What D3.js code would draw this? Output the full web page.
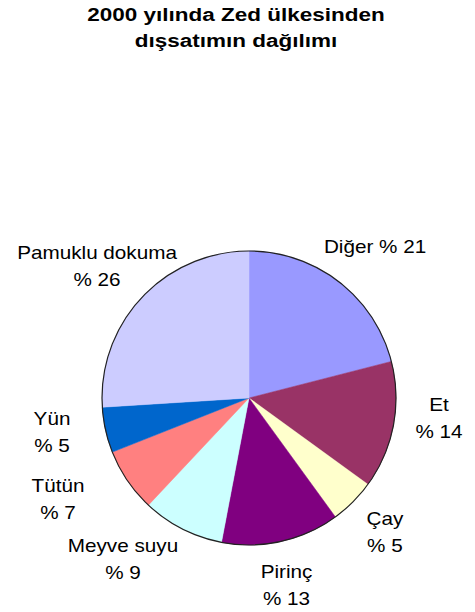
<!DOCTYPE html>
<html><head><meta charset="utf-8">
<script src="https://cdn.jsdelivr.net/npm/d3@7"></script>
<style>html,body{margin:0;padding:0;background:#fff;}</style>
</head><body>
<script>
const titleLines = ["2000 yılında Zed ülkesinden", "dışsatımın dağılımı"];
const categories = ["Diğer", "Et", "Çay", "Pirinç", "Meyve suyu", "Tütün", "Yün", "Pamuklu dokuma"];
const values = [21, 14, 5, 13, 9, 7, 5, 26];
const colors = ["#9999FF", "#993366", "#FFFFCC", "#800080", "#CCFFFF", "#FF8080", "#0066CC", "#CCCCFF"];
const singleLine = [true, false, false, false, false, false, false, false];

// layout (not data)
const W = 475, H = 612;
const cx = 249, cy = 398, R = 147, labelR = 195;
const nudges = [[6.5, 2.6], [-1.5, -16.5], [-2, -4], [-5, -3], [-37.5, -12.7], [-29.7, -8.6], [-6.7, -8.5], [-9.8, 1.5]];
const font = "'Liberation Sans', Arial, sans-serif";

const svg = d3.select("body").append("svg").attr("width", W).attr("height", H);

svg.selectAll("text.title").data(titleLines).join("text")
  .attr("class", "title")
  .attr("transform", (d, i) => `translate(236,${20.5 + i * 26}) scale(1.25,1)`)
  .attr("text-anchor", "middle")
  .attr("font-family", font).attr("font-weight", "bold").attr("font-size", 18)
  .attr("fill", "#000")
  .text(d => d);

const data = categories.map((c, i) => ({ name: c, value: values[i], color: colors[i], single: singleLine[i], nudge: nudges[i] }));
const pie = d3.pie().sort(null).value(d => d.value).startAngle(0).endAngle(2 * Math.PI);
const arcs = pie(data);
const arc = d3.arc().innerRadius(0).outerRadius(R);

const g = svg.append("g").attr("transform", `translate(${cx},${cy})`);
g.selectAll("path.slice").data(arcs).join("path")
  .attr("class", "slice")
  .attr("d", arc)
  .attr("fill", d => d.data.color)
  .attr("stroke", d => d.data.color).attr("stroke-width", 0.5);
g.append("circle").attr("r", R).attr("fill", "none").attr("stroke", "#222").attr("stroke-width", 1.2);

const labels = g.selectAll("g.lab").data(arcs).join("g").attr("class", "lab")
  .attr("transform", d => {
    const a = (d.startAngle + d.endAngle) / 2;
    const x = labelR * Math.sin(a) + d.data.nudge[0];
    const y = -labelR * Math.cos(a) + d.data.nudge[1];
    return `translate(${x},${y})`;
  });

labels.each(function(d) {
  const sel = d3.select(this);
  const lines = d.data.single ? [`${d.data.name} % ${d.data.value}`] : [d.data.name, `% ${d.data.value}`];
  const base = d.data.single ? 6.5 : -7;
  lines.forEach((t, i) => {
    sel.append("text")
      .attr("transform", `translate(0,${base + i * 27}) scale(1.15,1)`)
      .attr("text-anchor", "middle")
      .attr("font-family", font).attr("font-size", 18)
      .attr("fill", "#000")
      .text(t);
  });
});
</script>
</body></html>
